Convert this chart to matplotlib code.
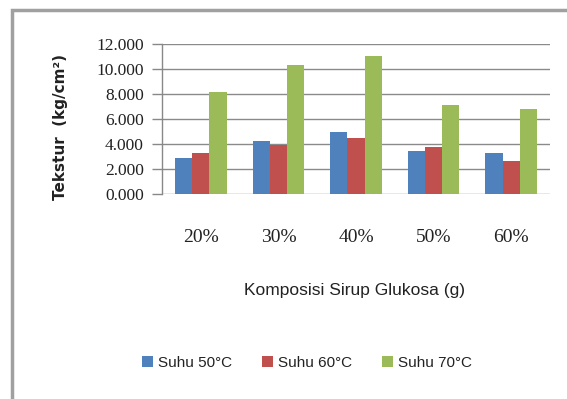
import matplotlib.pyplot as plt
import numpy as np
from matplotlib.patches import Rectangle, Patch

# Tekstur per komposisi sirup glukosa dan suhu
categories = ["20%", "30%", "40%", "50%", "60%"]
suhu_50 = [2.87, 4.28, 5.00, 3.46, 3.32]
suhu_60 = [3.32, 3.96, 4.52, 3.80, 2.63]
suhu_70 = [8.19, 10.32, 11.01, 7.10, 6.78]
series_names = ["Suhu 50°C", "Suhu 60°C", "Suhu 70°C"]
colors = ["#4F81BD", "#C0504D", "#9BBB59"]
yticks = [0, 2, 4, 6, 8, 10, 12]

W, H = 567, 399
fig = plt.figure(figsize=(W / 100, H / 100), dpi=100)
ax = fig.add_axes([162 / W, 1 - 194 / H, (550 - 162) / W, (194 - 44) / H])

x = np.arange(len(categories))
bw = 1 / 4.5
for i, (vals, c) in enumerate(zip([suhu_50, suhu_60, suhu_70], colors)):
    ax.bar(x + (i - 1) * bw, vals, width=bw, color=c, zorder=3)

ax.set_xlim(-0.5, len(categories) - 0.5)
ax.set_ylim(0, 12)
ax.set_yticks(yticks)
ax.set_yticklabels([f"{v:.3f}" for v in yticks], family="Liberation Serif",
                   fontsize=12.5, color="#222222")
ax.set_xticks(x)
ax.set_xticklabels(categories, family="Liberation Serif", fontsize=14,
                   color="#222222")
ax.tick_params(axis="x", length=0, pad=25)
ax.tick_params(axis="y", length=7, width=1, color="#888888", pad=6)
ax.grid(axis="y", color="#8a8a8a", linewidth=1, zorder=0)

for s in ["top", "right", "bottom"]:
    ax.spines[s].set_visible(False)
ax.spines["left"].set_color("#888888")
ax.spines["left"].set_linewidth(1)

fig.text(60 / W, 1 - 127 / H, "Tekstur  (kg/cm²)", rotation=90, ha="center",
         va="center", fontsize=11, fontweight="bold", family="DejaVu Sans",
         color="#222222")
fig.text(355 / W, 1 - 291 / H, "Komposisi Sirup Glukosa (g)", ha="center",
         va="center", fontsize=12.5, family="Liberation Sans", color="#222222")

handles = [Patch(facecolor=c, edgecolor="none") for c in colors]
fig.legend(handles, series_names, loc="center", ncol=3,
           bbox_to_anchor=(307 / W, 1 - 363 / H), frameon=False,
           prop={"family": "Liberation Sans", "size": 11},
           handlelength=0.7, handleheight=0.7, handletextpad=0.3,
           columnspacing=2.0, labelcolor="#222222")

# chart border, open toward the right and bottom edges
fig.patches.append(Rectangle((12 / W, -0.1), 1.2, 1 - 10 / H + 0.1,
                             transform=fig.transFigure, fill=False,
                             edgecolor="#a0a0a0", linewidth=2.5))

fig.savefig("out.png", dpi=100, facecolor="white")
